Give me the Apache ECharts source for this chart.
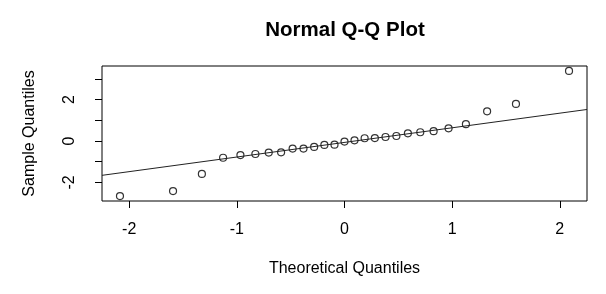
<!DOCTYPE html>
<html>
<head>
<meta charset="utf-8">
<script src="https://cdn.jsdelivr.net/npm/echarts@6/dist/echarts.min.js"></script>
<style>
  html, body { margin: 0; padding: 0; background: #fff; }
  #chart { width: 606px; height: 294px; }
</style>
</head>
<body>
<div id="chart"></div>
<script>
// theoretical quantiles (x) and sorted sample values (y)
const theoretical = [-2.086, -1.593, -1.325, -1.128, -0.967, -0.828, -0.704, -0.589, -0.482,
  -0.381, -0.282, -0.187, -0.093, 0, 0.093, 0.187, 0.282, 0.381, 0.482, 0.589, 0.704,
  0.828, 0.967, 1.128, 1.325, 1.593, 2.086]
const sample = [-2.66, -2.42, -1.59, -0.81, -0.68, -0.63, -0.56, -0.55, -0.37,
  -0.37, -0.29, -0.19, -0.18, -0.03, 0.03, 0.13, 0.14, 0.19, 0.24, 0.37, 0.42,
  0.47, 0.61, 0.81, 1.43, 1.79, 3.38]

// qqline
const lineIntercept = -0.07
const lineSlope = 0.706

const xTicks = [-2, -1, 0, 1, 2]
const yTicks = [-2, -1, 0, 1, 2, 3]
const yLabels = [-2, 0, 2]

const xMin = -2.253
const xMax = 2.253
const yMin = -2.9
const yMax = 3.62

const font = '"Liberation Sans", Arial, sans-serif'

const chart = echarts.init(document.getElementById('chart'))

const points = theoretical.map((x, i) => [x, sample[i]])
const lineData = [
  [xMin, lineIntercept + lineSlope * xMin],
  [xMax, lineIntercept + lineSlope * xMax]
]

chart.setOption({
  animation: false,
  backgroundColor: '#fff',
  title: {
    text: 'Normal Q-Q Plot',
    left: 340,
    top: 15,
    textAlign: 'center',
    textStyle: {
      fontFamily: font,
      fontSize: 20.5,
      fontWeight: 'bold',
      color: '#000'
    }
  },
  grid: {
    left: 102,
    right: 19,
    top: 66,
    bottom: 93,
    show: true,
    borderColor: '#000',
    borderWidth: 1,
    backgroundColor: 'transparent'
  },
  xAxis: {
    type: 'value',
    min: xMin,
    max: xMax,
    name: 'Theoretical Quantiles',
    nameLocation: 'middle',
    nameGap: 60,
    nameTextStyle: { fontFamily: font, fontSize: 16, color: '#000' },
    axisLine: { show: false, onZero: false },
    splitLine: { show: false },
    axisTick: {
      show: true,
      length: 7,
      customValues: xTicks,
      lineStyle: { color: '#000' }
    },
    axisLabel: {
      customValues: xTicks,
      margin: 21,
      fontFamily: font,
      fontSize: 16,
      color: '#000'
    }
  },
  yAxis: {
    type: 'value',
    min: yMin,
    max: yMax,
    name: 'Sample Quantiles',
    nameLocation: 'middle',
    nameGap: 64,
    nameTextStyle: { fontFamily: font, fontSize: 16, color: '#000' },
    axisLine: { show: false, onZero: false },
    splitLine: { show: false },
    axisTick: {
      show: true,
      length: 7,
      customValues: yTicks,
      lineStyle: { color: '#000' }
    },
    axisLabel: {
      customValues: yLabels,
      rotate: 90,
      margin: 24,
      fontFamily: font,
      fontSize: 16,
      color: '#000'
    }
  },
  series: [
    {
      type: 'scatter',
      data: points,
      symbol: 'circle',
      symbolSize: 7,
      itemStyle: {
        color: 'rgba(0,0,0,0)',
        borderColor: '#000',
        borderWidth: 1.2
      },
      z: 2
    },
    {
      type: 'line',
      data: lineData,
      symbol: 'none',
      lineStyle: { color: '#222', width: 1 },
      z: 3
    }
  ]
})
</script>
</body>
</html>
